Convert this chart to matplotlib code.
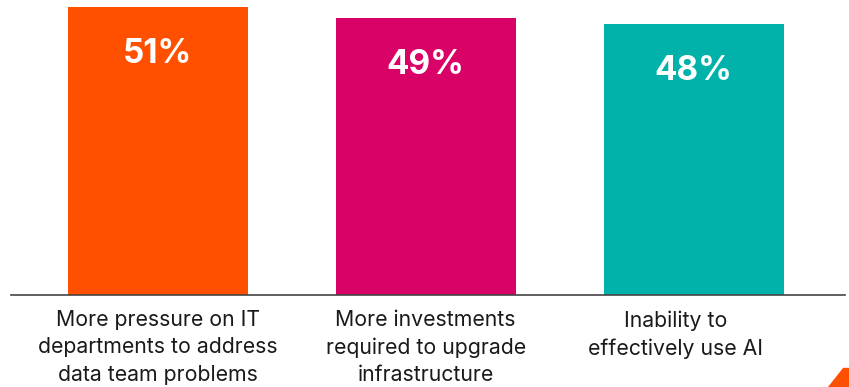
import matplotlib.pyplot as plt
import matplotlib.transforms as mtransforms
from matplotlib.patches import Polygon

categories = [
    "More pressure on IT\ndepartments to address\ndata team problems",
    "More investments\nrequired to upgrade\ninfrastructure",
    "Inability to\neffectively use AI",
]
values = [51, 49, 48]
colors = ["#FF5000", "#D90368", "#00B2A9"]


def main():
    plt.rcParams["font.family"] = ["Inter", "DejaVu Sans"]

    fig = plt.figure(figsize=(8.49, 3.87), dpi=100)
    ax = fig.add_axes([11 / 849, 92 / 387, 834 / 849, 288 / 387])

    x = range(len(values))
    ax.bar(x, values, width=0.672, color=colors)

    # value labels inside the bars
    for xi, v in zip(x, values):
        ax.annotate(f"{v}%", xy=(xi, v), xytext=(0, -40.3),
                    textcoords="offset points", ha="center", va="baseline",
                    color="white", fontsize=24, fontweight="bold")

    ax.set_xlim(-0.547, 2.565)
    ax.set_ylim(0, 51)

    ax.set_xticks(list(x))
    ax.set_xticklabels(categories, fontsize=15.3, color="#1a1a1a",
                       linespacing=1.45)
    ax.tick_params(axis="x", length=0, pad=11)
    ax.set_yticks([])

    # last label sits a bit left of its bar in the original
    last = ax.get_xticklabels()[-1]
    shift = mtransforms.ScaledTranslation(-18 / 100, 0, fig.dpi_scale_trans)
    last.set_transform(last.get_transform() + shift)

    for side in ["top", "right", "left"]:
        ax.spines[side].set_visible(False)
    ax.spines["bottom"].set_color("#444444")
    ax.spines["bottom"].set_linewidth(1.2)

    # small orange corner mark
    tri = Polygon([(828 / 849, 0), (1, 0), (1, 19 / 387), (843 / 849, 19 / 387)],
                  closed=True, transform=fig.transFigure, color="#FF5000")
    fig.patches.append(tri)

    fig.savefig("out.png", dpi=100)
    plt.close(fig)


if __name__ == "__main__":
    main()
